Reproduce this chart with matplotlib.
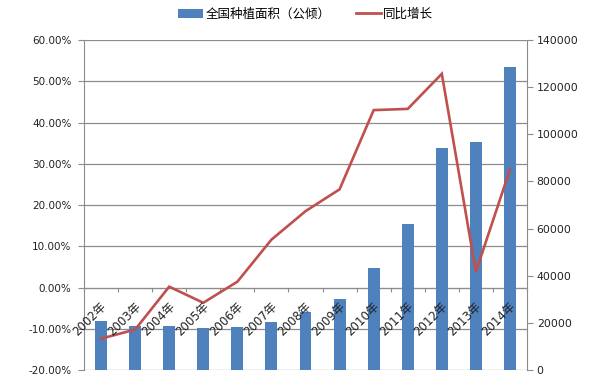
import matplotlib
matplotlib.use("Agg")
import matplotlib.pyplot as plt
from matplotlib.patches import Patch
from matplotlib.lines import Line2D
import matplotlib.transforms as mtransforms

plt.rcParams['font.family'] = ['DejaVu Sans', 'Noto Sans CJK SC']

years = ["2002年", "2003年", "2004年", "2005年", "2006年", "2007年", "2008年",
         "2009年", "2010年", "2011年", "2012年", "2013年", "2014年"]
area = [20900, 18700, 18700, 18000, 18400, 20500, 24400, 30000, 43200, 61800,
        94100, 96800, 128400]
growth = [-12.4, -10.2, 0.2, -3.7, 1.4, 11.6, 18.5, 23.8, 43.0, 43.3, 51.8, 3.8, 28.6]
left_ticks = [-20, -10, 0, 10, 20, 30, 40, 50, 60]
right_ticks = [0, 20000, 40000, 60000, 80000, 100000, 120000, 140000]
legend_labels = ["全国种植面积（公倾）", "同比增长"]

bar_color = "#4F81BD"
line_color = "#C0504D"
grid_color = "#8C8C8C"
txt_color = "#222222"

fig = plt.figure(figsize=(5.89, 3.83), dpi=100)
pos = [84/589, 1-370/383, (527-84)/589, (370-40)/383]
ax = fig.add_axes(pos)
ax.set_zorder(0)
ax2 = ax.twinx()
ax2.set_zorder(1)
ax2.patch.set_visible(False)
ax3 = ax.twinx()
ax3.set_zorder(2)
ax3.patch.set_visible(False)

n = len(years)
x = list(range(n))

# left axis (grid + labels)
ax.set_xlim(-0.5, n-0.5)
ax.set_ylim(left_ticks[0], left_ticks[-1])
ax.set_yticks(left_ticks)
ax.set_yticklabels([f"{v:.2f}%" for v in left_ticks], fontsize=7.5, color=txt_color)
ax.yaxis.grid(True, color=grid_color, linewidth=0.9)
ax.set_axisbelow(True)
ax.tick_params(axis='y', length=4, color=grid_color, width=0.8, pad=5)
ax.spines['top'].set_visible(False)
ax.spines['left'].set_color(grid_color)
ax.spines['right'].set_visible(False)
ax.spines['bottom'].set_position(('data', 0))
ax.spines['bottom'].set_color(grid_color)
ax.set_xticks([i + 0.5 for i in range(-1, n)])
ax.set_xticklabels([])
ax.tick_params(axis='x', length=3, color=grid_color, width=0.8, direction='out')

# bars on right axis
ax2.bar(x, area, width=0.35, color=bar_color, edgecolor='none')
ax2.set_ylim(right_ticks[0], right_ticks[-1])
ax2.set_yticks(right_ticks)
ax2.set_yticklabels([str(v) for v in right_ticks], fontsize=7.8, color=txt_color)
ax2.tick_params(axis='y', length=4, color=grid_color, width=0.8, pad=3)
for s in ['top', 'left', 'bottom']:
    ax2.spines[s].set_visible(False)
ax2.spines['right'].set_color(grid_color)

# line on left scale
ax3.plot(x, growth, color=line_color, linewidth=1.9, solid_joinstyle='miter')
ax3.set_ylim(left_ticks[0], left_ticks[-1])
ax3.set_yticks([])
for s in ax3.spines.values():
    s.set_visible(False)
ax3.set_xlim(-0.5, n-0.5)

# category labels
off = mtransforms.ScaledTranslation(-1/100, -12/100, fig.dpi_scale_trans)
for i, lab in enumerate(years):
    ax3.text(i, 0, lab, rotation=45, ha='right', va='top', rotation_mode='anchor',
             fontsize=8.5, color=txt_color, transform=ax3.transData + off, zorder=5)

handles = [Patch(facecolor=bar_color, edgecolor='none'),
           Line2D([0], [0], color=line_color, linewidth=2)]
fig.legend(handles, legend_labels, loc='center', bbox_to_anchor=(305.5/589, 1-14/383),
           ncol=2, frameon=False, handlelength=2.0, handletextpad=0.2,
           columnspacing=2.0, prop={'family': ['Noto Sans CJK SC', 'DejaVu Sans'], 'size': 9})

fig.savefig("out.png", dpi=100)
